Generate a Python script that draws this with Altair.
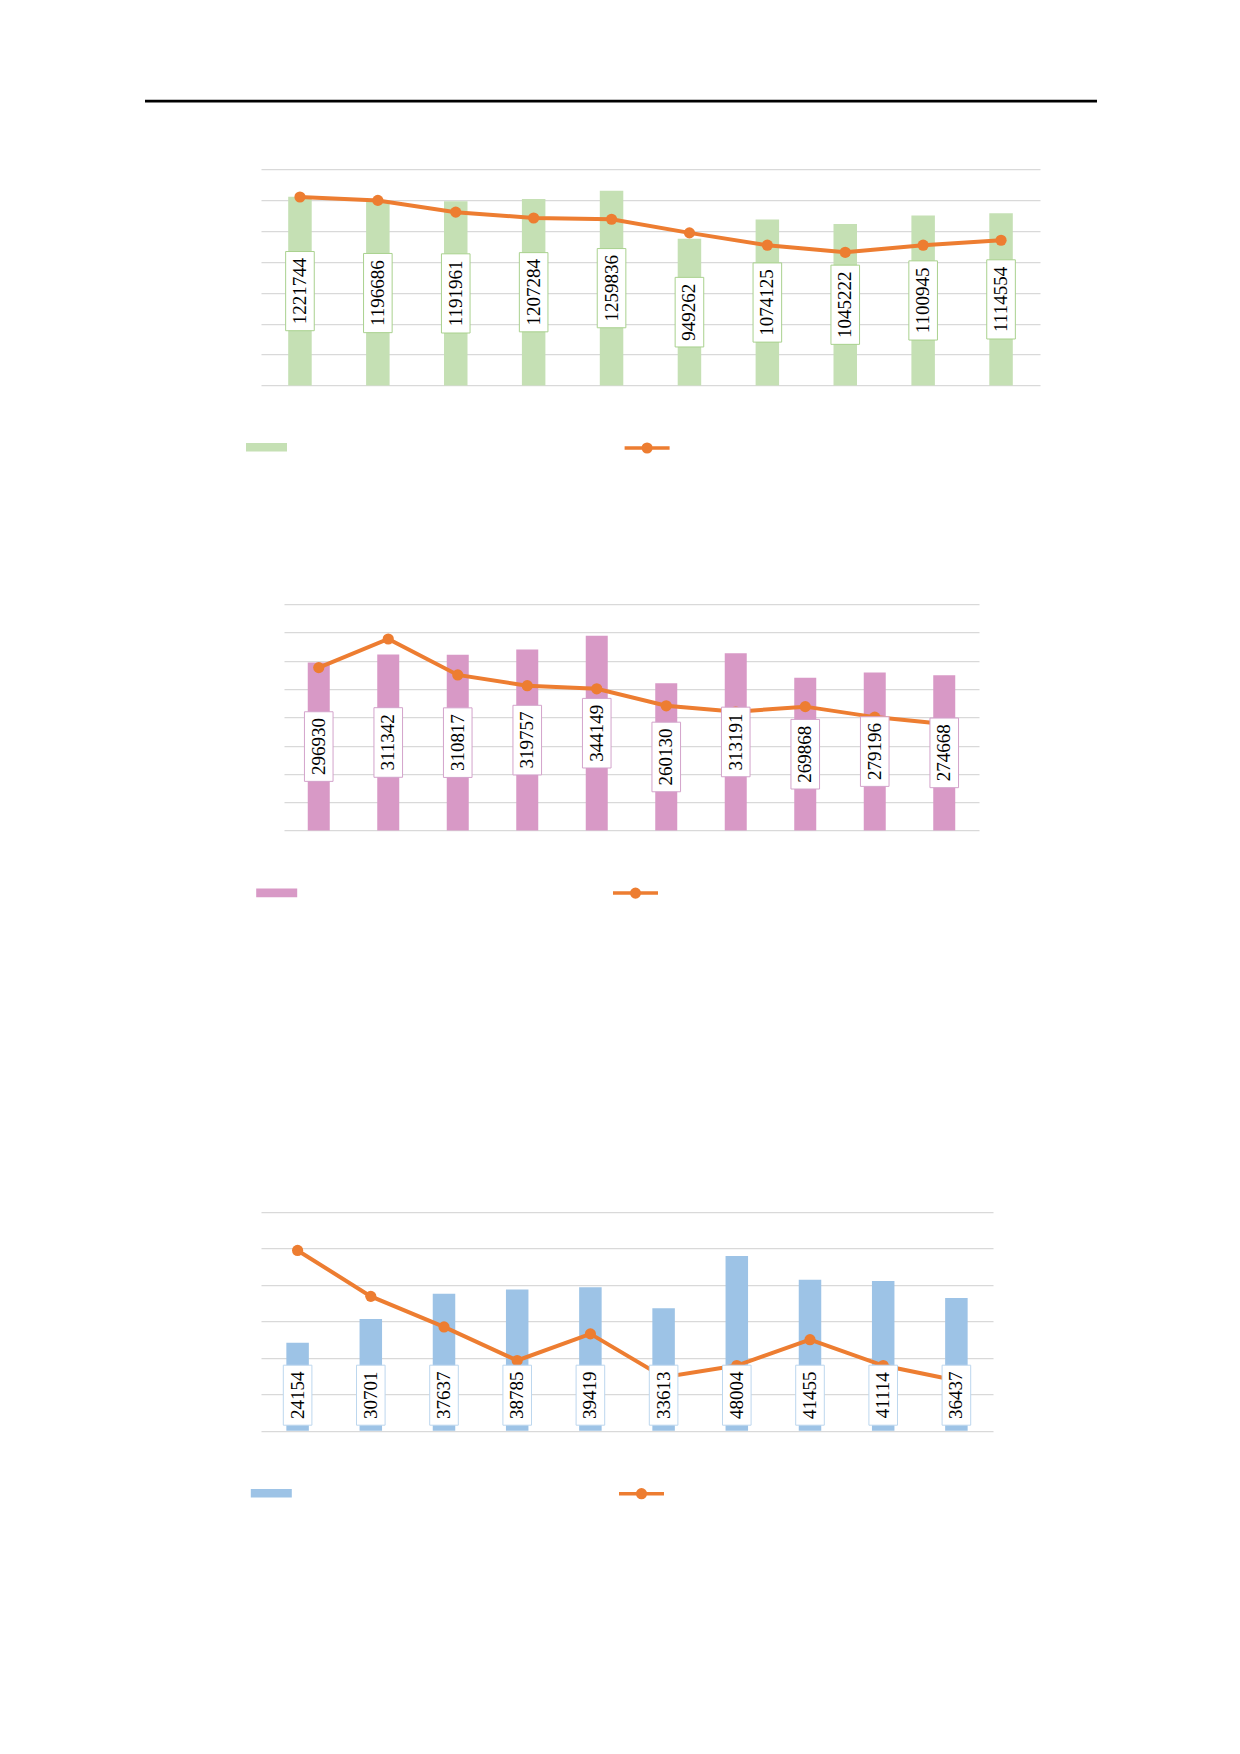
import altair as alt
import pandas as pd

# ---- data (category labels are not shown in it) ----
cats = ["1", "2", "3", "4", "5", "6", "7", "8", "9", "10"]

c1_bars = [1221744, 1196686, 1191961, 1207284, 1259836, 949262, 1074125, 1045222, 1100945, 1114554]
c1_line = [61.0, 59.9, 56.1, 54.2, 53.8, 49.4, 45.4, 43.1, 45.4, 47.0]

c2_bars = [296930, 311342, 310817, 319757, 344149, 260130, 313191, 269868, 279196, 274668]
c2_line = [57.6, 67.7, 55.0, 51.2, 50.1, 44.1, 42.0, 43.8, 40.1, 37.7]

c3_bars = [24154, 30701, 37637, 38785, 39419, 33613, 48004, 41455, 41114, 36437]
c3_line = [49.5, 36.9, 28.5, 19.3, 26.6, 14.7, 17.9, 25.0, 17.9, 13.8]

ORANGE = "#ED7D31"
GRID = "#D9D9D9"
FONT = "Liberation Serif"

BOX_SCALE = 50.0  # sqrt(size)/2 for size=10000


def box_path(n_digits, center_px=0.0):
    hh = (9.6 * n_digits + 12) / 2.0 / BOX_SCALE
    hw = 14.3 / BOX_SCALE
    cy = center_px / BOX_SCALE
    t, b = cy - hh, cy + hh
    return f"M{-hw:.4f},{t:.4f}L{hw:.4f},{t:.4f}L{hw:.4f},{b:.4f}L{-hw:.4f},{b:.4f}Z"


RECT_SYMBOL = "M-1,-0.21L1,-0.21L1,0.21L-1,0.21Z"
LINE_SYMBOL = ("M-1,0L1,0"
               "M0.07,0A0.07,0.07,0,1,1,-0.07,0A0.07,0.07,0,1,1,0.07,0"
               "M0.17,0A0.17,0.17,0,1,1,-0.17,0A0.17,0.17,0,1,1,0.17,0")


def make_chart(bars, line, bar_color, border_color, width, height, plot_h,
               y_max, y_step, line_max, bar_size, bar_leg, line_leg,
               base_labels=False, rule=False, x_start=0):
    df = pd.DataFrame({"cat": cats, "bar": bars, "line": line})
    df["label"] = df["bar"].astype(str)
    df["mid"] = df["bar"] / 2.0
    df["zero"] = 0
    off = -35.6 if base_labels else 0.0
    df["box"] = [box_path(len(s), off) for s in df["label"]]
    df["sb"] = "bars"
    df["sl"] = "line"

    if x_start:
        xs = alt.Scale(paddingInner=0, paddingOuter=0, range=[x_start, width])
    else:
        xs = alt.Scale(paddingInner=0, paddingOuter=0)
    x = alt.X("cat:N", sort=cats, axis=None, scale=xs)
    yscale = alt.Scale(domain=[0, y_max], range=[plot_h, 0], nice=False, zero=True)
    lscale = alt.Scale(domain=[0, line_max], range=[plot_h, 0], nice=False, zero=True)

    base = alt.Chart(df)

    bar_layer = base.mark_bar(size=bar_size).encode(
        x=x,
        y=alt.Y("bar:Q", scale=yscale,
                axis=alt.Axis(values=list(range(0, y_max + 1, y_step)), grid=True,
                              labels=False, ticks=False, domain=False,
                              gridColor=GRID, gridWidth=1.3, title="")),
        fill=alt.Fill("sb:N", scale=alt.Scale(domain=["bars"], range=[bar_color]),
                      legend=alt.Legend(orient="none", legendX=bar_leg[0], legendY=bar_leg[1],
                                        title="", labelExpr="''", padding=0,
                                        symbolType=RECT_SYMBOL, symbolSize=1681,
                                        symbolStrokeWidth=0)),
    )

    line_layer = base.mark_line(strokeWidth=4).encode(
        x=x,
        y=alt.Y("line:Q", scale=lscale, axis=None),
        stroke=alt.Stroke("sl:N", scale=alt.Scale(domain=["line"], range=[ORANGE]),
                          legend=alt.Legend(orient="none", legendX=line_leg[0], legendY=line_leg[1],
                                            title="", labelExpr="''", padding=0,
                                            symbolType=LINE_SYMBOL, symbolSize=2025,
                                            symbolStrokeWidth=3.5, symbolFillColor=ORANGE)),
    )

    point_layer = base.mark_point(filled=True, size=125, color=ORANGE, opacity=1).encode(
        x=x,
        y=alt.Y("line:Q", scale=lscale, axis=None),
    )

    yfield = "zero:Q" if base_labels else "mid:Q"
    box_layer = base.mark_point(filled=True, fill="white", stroke=border_color,
                                strokeWidth=1, opacity=1, size=10000).encode(
        x=x,
        y=alt.Y(yfield, scale=yscale, axis=None),
        shape=alt.Shape("box:N", scale=None),
    )

    text_layer = base.mark_text(angle=270, font=FONT, fontSize=19, align="center",
                                baseline="middle", color="black",
                                dx=35.6 if base_labels else 0).encode(
        x=x,
        y=alt.Y(yfield, scale=yscale, axis=None),
        text="label:N",
    )

    layers = [bar_layer, line_layer, point_layer, box_layer, text_layer]
    if rule:
        rule_layer = alt.Chart(pd.DataFrame({"r": [0]})).mark_rule(
            color="black", strokeWidth=2.7).encode(
            x=alt.value(-116), x2=alt.value(836), y=alt.value(-68))
        layers.append(rule_layer)

    return alt.layer(*layers).resolve_scale(y="independent").properties(
        width=width, height=height)


chart1 = make_chart(c1_bars, c1_line, "#C5E0B4", "#A9D18E", 779, 434.3, 216.3,
                    1400000, 200000, 70, 23.5, (-15, 257.5), (361.6, 254.3), rule=True)
chart2 = make_chart(c2_bars, c2_line, "#D899C6", "#D3A3CB", 718, 607.4, 226.4,
                    400000, 50000, 80, 22, (-4.8, 268.2), (350, 264.4), x_start=23)
chart3 = make_chart(c3_bars, c3_line, "#9DC3E6", "#BDD7EE", 732, 300, 218.6,
                    60000, 10000, 60, 22.5, (-10.2, 260.6), (356, 257), base_labels=True)

chart = alt.vconcat(chart1, chart2, chart3, spacing=0, bounds="flush").resolve_scale(
    fill="independent", stroke="independent"
).properties(
    padding={"left": 135, "top": 91.2, "right": 5, "bottom": 5},
    background="white",
).configure_view(strokeWidth=0)

chart.save("out.html", embed_options={"renderer": "svg", "actions": False})
